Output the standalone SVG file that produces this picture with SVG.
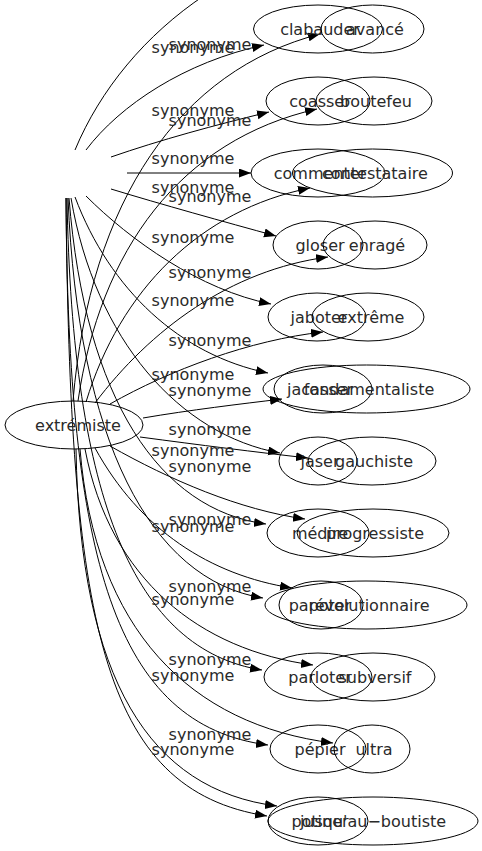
<svg xmlns="http://www.w3.org/2000/svg" width="482" height="851" viewBox="0 0 482 851">
<defs>
<marker id="ah" markerUnits="userSpaceOnUse" markerWidth="13" markerHeight="10" refX="12" refY="4.5" orient="auto">
<path d="M0,0 L12,4.5 L0,9 z" fill="#000"/>
</marker>
<style>
.e{fill:none;stroke:#000;stroke-width:1;marker-end:url(#ah)}
.n ellipse{fill:none;stroke:#000;stroke-width:1}
text{font-family:"DejaVu Sans","Liberation Sans",sans-serif;font-size:16px;fill:#2a2a2a}
.n text{text-anchor:middle}
.l{text-anchor:middle}
</style>
</defs>
<rect width="482" height="851" fill="#fff"/>
<g id="edges">
<path class="e" style="marker-end:none" d="M75,150 C100,90 145,35 205,-5"/>
<path class="e" d="M86,150 C120,105 185,62 264,45"/>
<path class="e" d="M111,157 C160,140 215,125 269,112"/>
<path class="e" d="M127,173 L251,173"/>
<path class="e" d="M111,189 C160,204 225,222 276,236"/>
<path class="e" d="M86,196 C130,240 200,290 271,304"/>
<path class="e" d="M75,197 C110,290 180,355 268,373"/>
<path class="e" d="M71,198 C95,340 180,435 280,453"/>
<path class="e" d="M69,198 C85,400 160,510 266,524"/>
<path class="e" d="M68,198 C78,440 150,580 263,598"/>
<path class="e" d="M67,198 C72,500 135,650 262,670"/>
<path class="e" d="M66,198 C68,560 115,725 268,745"/>
<path class="e" d="M66,198 C70,620 100,790 267,816"/>
<path class="e" d="M73,401 C90,200 180,70 320,34"/>
<path class="e" d="M78,401 C100,250 180,140 317,109"/>
<path class="e" d="M86,402 C120,290 200,210 310,188"/>
<path class="e" d="M95,403 C150,330 230,270 328,257"/>
<path class="e" d="M110,404 C170,370 250,340 323,332"/>
<path class="e" d="M143,418 C190,410 240,404 282,399"/>
<path class="e" d="M140,437 C200,445 255,452 308,458"/>
<path class="e" d="M110,446 C170,480 240,510 305,519"/>
<path class="e" d="M95,448 C140,530 210,575 292,588"/>
<path class="e" d="M85,449 C110,580 200,650 313,665"/>
<path class="e" d="M80,449 C95,630 190,725 333,743"/>
<path class="e" d="M76,449 C80,680 150,790 277,806"/>
<text class="l" x="193" y="53">synonyme</text>
<text class="l" x="193" y="116">synonyme</text>
<text class="l" x="193" y="164">synonyme</text>
<text class="l" x="193" y="193">synonyme</text>
<text class="l" x="193" y="243">synonyme</text>
<text class="l" x="193" y="306">synonyme</text>
<text class="l" x="193" y="380">synonyme</text>
<text class="l" x="193" y="456">synonyme</text>
<text class="l" x="193" y="532">synonyme</text>
<text class="l" x="193" y="605">synonyme</text>
<text class="l" x="193" y="681">synonyme</text>
<text class="l" x="193" y="755">synonyme</text>
<text class="l" x="210" y="50">synonyme</text>
<text class="l" x="210" y="126">synonyme</text>
<text class="l" x="210" y="202">synonyme</text>
<text class="l" x="210" y="278">synonyme</text>
<text class="l" x="210" y="346">synonyme</text>
<text class="l" x="210" y="396">synonyme</text>
<text class="l" x="210" y="435">synonyme</text>
<text class="l" x="210" y="472">synonyme</text>
<text class="l" x="210" y="525">synonyme</text>
<text class="l" x="210" y="592">synonyme</text>
<text class="l" x="210" y="665">synonyme</text>
<text class="l" x="210" y="740">synonyme</text>
</g>
<g id="node-extremiste" class="n"><ellipse cx="74" cy="425" rx="69" ry="24"/><text x="78" y="431">extrémiste</text></g>
<g id="node-clabauder" class="n"><ellipse cx="318" cy="29" rx="64.5" ry="24"/><text x="320" y="35">clabauder</text></g>
<g id="node-avance" class="n"><ellipse cx="372.5" cy="29" rx="51.5" ry="24"/><text x="375" y="35">avancé</text></g>
<g id="node-coasser" class="n"><ellipse cx="318" cy="101" rx="52" ry="24"/><text x="320" y="107">coasser</text></g>
<g id="node-boutefeu" class="n"><ellipse cx="374" cy="101" rx="58" ry="24"/><text x="376" y="107">boutefeu</text></g>
<g id="node-commenter" class="n"><ellipse cx="318" cy="173" rx="67" ry="24"/><text x="320" y="179">commenter</text></g>
<g id="node-contestataire" class="n"><ellipse cx="372.5" cy="173" rx="80" ry="24"/><text x="375" y="179">contestataire</text></g>
<g id="node-gloser" class="n"><ellipse cx="318" cy="245" rx="45" ry="24"/><text x="320" y="251">gloser</text></g>
<g id="node-enrage" class="n"><ellipse cx="375" cy="245" rx="52" ry="24"/><text x="377" y="251">enragé</text></g>
<g id="node-jaboter" class="n"><ellipse cx="317" cy="317" rx="49" ry="24"/><text x="319" y="323">jaboter</text></g>
<g id="node-extreme" class="n"><ellipse cx="368" cy="317" rx="56" ry="24"/><text x="371" y="323">extrême</text></g>
<g id="node-jacasser" class="n"><ellipse cx="323" cy="389" rx="49" ry="24"/><text x="320" y="395">jacasser</text></g>
<g id="node-fondamentaliste" class="n"><ellipse cx="366.5" cy="389" rx="103.5" ry="24"/><text x="369" y="395">fondamentaliste</text></g>
<g id="node-jaser" class="n"><ellipse cx="318" cy="461" rx="39" ry="24"/><text x="320" y="467">jaser</text></g>
<g id="node-gauchiste" class="n"><ellipse cx="372" cy="461" rx="64" ry="24"/><text x="374" y="467">gauchiste</text></g>
<g id="node-medire" class="n"><ellipse cx="318" cy="533" rx="51" ry="24"/><text x="320" y="539">médire</text></g>
<g id="node-progressiste" class="n"><ellipse cx="373" cy="533" rx="76" ry="24"/><text x="375" y="539">progressiste</text></g>
<g id="node-papoter" class="n"><ellipse cx="321" cy="605" rx="42" ry="24"/><text x="320" y="611">papoter</text></g>
<g id="node-revolutionnaire" class="n"><ellipse cx="366" cy="605" rx="101" ry="24"/><text x="369" y="611">révolutionnaire</text></g>
<g id="node-parloter" class="n"><ellipse cx="318" cy="677" rx="54" ry="24"/><text x="320" y="683">parloter</text></g>
<g id="node-subversif" class="n"><ellipse cx="373" cy="677" rx="62" ry="24"/><text x="375" y="683">subversif</text></g>
<g id="node-pepier" class="n"><ellipse cx="318" cy="749" rx="48" ry="24"/><text x="320" y="755">pépier</text></g>
<g id="node-ultra" class="n"><ellipse cx="372" cy="749" rx="38" ry="24"/><text x="374" y="755">ultra</text></g>
<g id="node-potiner" class="n"><ellipse cx="318" cy="821" rx="50" ry="24"/><text x="320" y="827">potiner</text></g>
<g id="node-jusquauboutiste" class="n"><ellipse cx="373" cy="821" rx="105" ry="24"/><text x="373" y="827">jusqu'au−boutiste</text></g>
</svg>
